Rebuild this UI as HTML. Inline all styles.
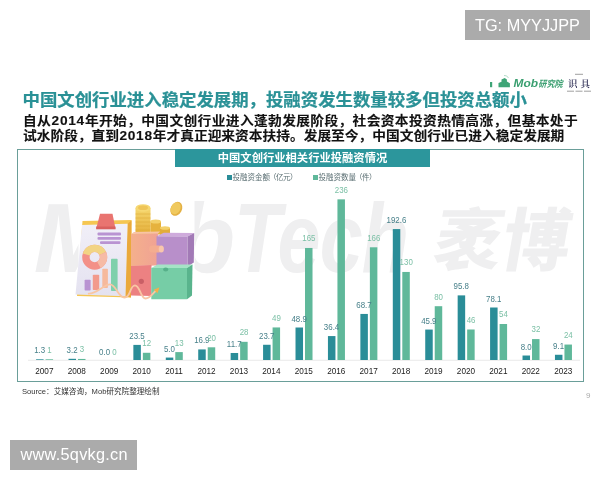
<!DOCTYPE html>
<html lang="zh-CN"><head><meta charset="utf-8"><title>中国文创行业投融资情况</title>
<style>
html,body{margin:0;padding:0;background:#fff;}
body{width:600px;height:480px;position:relative;overflow:hidden;font-family:"Liberation Sans","Noto Sans CJK SC",sans-serif;}
.abs{position:absolute;}
.tag{position:absolute;background:#ababab;color:#fff;font-size:16.3px;white-space:nowrap;}
.title{left:22.5px;top:88.3px;font-size:17.4px;line-height:24px;font-weight:bold;color:#2a9196;white-space:nowrap;letter-spacing:0;transform:scaleY(0.95);-webkit-text-stroke:0.25px #2a9196;}
.body{left:23px;font-size:13.72px;line-height:16px;font-weight:bold;color:#111;white-space:nowrap;transform:scaleY(0.93);-webkit-text-stroke:0.12px #111;}
.dg{letter-spacing:0.7px;margin-left:0.4px}
.leg span{letter-spacing:-0.5px;margin-left:-1px}
.wm{left:36px;top:187.7px;font-size:99px;line-height:100px;font-weight:bold;font-style:italic;color:#efeff0;white-space:nowrap;letter-spacing:-1px;}
.box{left:17.2px;top:148.6px;width:566.8px;height:233px;border:1.5px solid #6a9e99;box-sizing:border-box;}
.hdr{left:175px;top:149px;width:255px;height:17.5px;background:#2c969c;color:#fff;font-size:11.3px;font-weight:bold;line-height:19.5px;overflow:hidden;text-align:center;white-space:nowrap;}
.leg{font-size:7.5px;color:#5b6f73;top:172px;line-height:11px;white-space:nowrap;}
.sq{width:5px;height:5px;top:175.2px;}
.src{left:22px;top:385.5px;font-size:7.6px;line-height:11px;color:#333;white-space:nowrap;}
.pg{left:586px;top:391px;font-size:8px;line-height:10px;color:#aaa;}
</style></head><body>
<div class="abs wm" style="left:33.7px">Mob</div>
<div class="abs wm" style="left:233.6px;transform:scaleX(0.78);transform-origin:0 0">Tech</div>
<div class="abs wm" style="left:434.5px;top:191px;font-size:68px;font-style:normal;letter-spacing:0;font-weight:900;transform:skewX(-10deg)">袤博</div>
<div class="tag" style="left:465px;top:9.5px;width:124.5px;height:30px;line-height:31px;text-indent:10px;">TG: MYYJJPP</div>
<div class="abs title">中国文创行业进入稳定发展期，投融资发生数量较多但投资总额小</div>
<div class="abs body" style="top:112.5px;letter-spacing:0.37px">自从<span class="dg">2014</span>年开始，中国文创行业进入蓬勃发展阶段，社会资本投资热情高涨，但基本处于</div>
<div class="abs body" style="top:127.5px">试水阶段，直到<span class="dg">2018</span>年才真正迎来资本扶持。发展至今，中国文创行业已进入稳定发展期</div>
<svg class="abs" style="left:480px;top:65px" width="120" height="35" viewBox="480 65 120 35">
<rect x="490" y="82" width="2.2" height="5.2" fill="#3fa577"/>
<path d="M498.5 87.3V83l3-1.2V79.6l3.2-1.6 2.2 1.5v2l3 1.8v4z" fill="#3fa577"/>
<path d="M504 75.5q3-.5 4.500 2.500" fill="none" stroke="#9fd3bb" stroke-width="0.8"/>
<g font-family="Liberation Sans, Noto Sans CJK SC, sans-serif" font-weight="bold" font-style="italic" fill="#3a9f70">
<text x="513.5" y="87.3" font-size="10.6" textLength="24.5" lengthAdjust="spacingAndGlyphs">Mob</text>
<text x="538.300" y="87" font-size="9" textLength="24.5" lengthAdjust="spacingAndGlyphs">研究院</text>
</g>
<text x="568" y="87" font-family="Noto Serif CJK SC, serif" font-weight="600" font-size="9.5" fill="#2d2d55" textLength="22" lengthAdjust="spacing">识具</text>
<line x1="575" x2="583" y1="74.300" y2="74.300" stroke="#777" stroke-width="0.7"/>
<line x1="567" x2="591" y1="91.200" y2="91.200" stroke="#888" stroke-width="0.8" stroke-dasharray="7 1.500"/>
</svg>
<div class="abs box"></div>
<div class="abs hdr">中国文创行业相关行业投融资情况</div>
<div class="abs sq" style="left:227px;background:#2a8d98"></div>
<div class="abs leg" style="left:232.5px">投融资金额<span>（亿元）</span></div>
<div class="abs sq" style="left:313px;background:#5fb89a"></div>
<div class="abs leg" style="left:318.5px">投融资数量<span>（件）</span></div>
<svg class="abs" style="left:50px;top:180px" width="160" height="130" viewBox="50 180 160 130">
<defs>
<linearGradient id="gp" x1="0" y1="0" x2="1" y2="0"><stop offset="0" stop-color="#f4b08c"/><stop offset="1" stop-color="#f0a294"/></linearGradient>
<linearGradient id="gc" x1="0" y1="0" x2="0" y2="1"><stop offset="0" stop-color="#f5d66e"/><stop offset="1" stop-color="#e4ae3a"/></linearGradient>
<linearGradient id="gpaper" x1="0" y1="0" x2="0" y2="1"><stop offset="0" stop-color="#f1eff8"/><stop offset="1" stop-color="#e4e2f0"/></linearGradient>
</defs>
<rect x="78.500" y="186" width="116" height="116" fill="#fff"/>
<!-- soft shadow under -->
<!-- coins -->
<rect x="135.500" y="208" width="15" height="27" fill="url(#gc)"/>
<g stroke="#d9a433" stroke-width="0.5"><line x1="135.500" x2="150.500" y1="214" y2="214"/><line x1="135.500" x2="150.500" y1="218" y2="218"/><line x1="135.500" x2="150.500" y1="222" y2="222"/><line x1="135.500" x2="150.500" y1="226" y2="226"/><line x1="135.500" x2="150.500" y1="230" y2="230"/></g>
<ellipse cx="143" cy="208" rx="7.500" ry="3.800" fill="#f6d873"/>
<ellipse cx="143" cy="207.800" rx="5" ry="2.300" fill="#efc558"/>
<rect x="150.500" y="221.500" width="10.500" height="13" fill="#e6b23e"/>
<ellipse cx="155.700" cy="221.500" rx="5.300" ry="2" fill="#f3d06a"/>
<rect x="160" y="228" width="10" height="7" fill="#e2ad3a"/>
<ellipse cx="165" cy="228" rx="5" ry="1.800" fill="#f3d06a"/>
<ellipse cx="176.300" cy="208.800" rx="5.600" ry="7.300" transform="rotate(28 176.300 208.800)" fill="#e4b144"/>
<ellipse cx="175.700" cy="208.300" rx="4.600" ry="6.300" transform="rotate(28 175.700 208.300)" fill="#f0c95e"/>
<!-- clipboard -->
<polygon points="82.500,221 131.500,220 131,297.500 77,296" fill="#f5c652"/>
<polygon points="127.600,223.700 131.500,220.500 131,297.500 125.300,296.300" fill="#eaa93c"/>
<polygon points="82,225 127.600,223.700 125.500,296.300 75.500,294.500" fill="url(#gpaper)"/>
<!-- clip -->
<polygon points="100,213.700 112.500,213.700 115.500,228.800 96.200,228.800" fill="#e97470"/>
<polygon points="96.200,226.500 115.500,226.500 115.500,229.300 96.200,229.300" fill="#d9605f"/>
<!-- lines -->
<rect x="97.500" y="232.600" width="23.500" height="2.800" rx="1" fill="#b993d2"/>
<rect x="97.500" y="236.900" width="23.500" height="2.800" rx="1" fill="#b993d2"/>
<rect x="100" y="241.200" width="20.500" height="2.800" rx="1" fill="#b993d2"/>
<!-- donut -->
<circle cx="94.700" cy="257.200" r="8.800" fill="none" stroke="#f39088" stroke-width="7.400"/>
<path d="M86.300 254.500 A8.800 8.800 0 0 1 102.700 253.500" fill="none" stroke="#f2d484" stroke-width="7.400"/>
<path d="M102.700 253.500 A8.800 8.800 0 0 1 99 264.900" fill="none" stroke="#f6bba6" stroke-width="7.400"/>
<!-- bars -->
<rect x="84.600" y="279.700" width="6" height="10.800" rx="0.800" fill="#b993d2"/>
<rect x="92.800" y="274.800" width="6.400" height="15.200" rx="0.800" fill="#f29a8c"/>
<rect x="102.300" y="268.800" width="5.600" height="19.200" rx="0.800" fill="#f6b99c"/>
<rect x="111" y="258.700" width="6.600" height="32.300" rx="0.800" fill="#7fd0ac"/>
<!-- blocks -->
<polygon points="131,234 158,233 158,265.500 131,266" fill="url(#gp)"/>
<polygon points="131,234 134,232 160,231.500 158,233.500" fill="#f8c3a6"/>
<polygon points="156.500,236.200 163.800,232.800 194.200,233 187.600,236.500" fill="#cfabdc"/>
<polygon points="156.500,236.200 187.600,236.500 187.600,266.500 156.500,266.500" fill="#b88fca"/>
<polygon points="187.600,236.500 194.200,233 193.800,262.500 187.600,266.500" fill="#a27ab6"/>
<rect x="149" y="245.500" width="13" height="7" rx="3.500" fill="#f4ad90"/>
<ellipse cx="161.300" cy="249" rx="2.600" ry="3.500" fill="#f8c6ac"/>
<polygon points="131,266 151.500,265 151.500,296 131,295.500" fill="#ec8182"/>
<circle cx="141.300" cy="281.300" r="2.600" fill="#c95f66"/>
<polygon points="151.300,268 157.500,264.500 192.500,264.500 187,268" fill="#a5e3c6"/>
<polygon points="151.300,268 187,268 187,299.200 151.300,299.200" fill="#76cda6"/>
<polygon points="187,268 192.500,264.500 192,295.500 187,299.200" fill="#59b48d"/>
<ellipse cx="165.700" cy="269.500" rx="2.600" ry="2" fill="#57b08a"/>
<!-- wave -->
<path d="M88.700 293.700 C97 293.700 104 284.300 110 284.300 C116 284.300 118 297.500 124.500 297.500 C131 297.500 129.500 285.500 135 285.300 C140 285.300 140.500 298.500 145.500 298.500 C150.500 298.500 153 293 156.500 290" fill="none" stroke="#f8c6a4" stroke-width="1.800" stroke-linecap="round"/>
<polygon points="153.800,289.700 159.500,287.200 157.500,293.300" fill="#f2b04c"/>
</svg>

<svg class="abs" style="left:0;top:0" width="600" height="480" viewBox="0 0 600 480">
<line x1="28" x2="580" y1="360.3" y2="360.3" stroke="#e4e4e4" stroke-width="0.8"/>
<rect x="36.07" y="359.30" width="7.5" height="0.70" fill="#2a8d98"/>
<rect x="45.57" y="359.30" width="7.5" height="0.70" fill="#5fb89a"/>
<rect x="68.50" y="358.81" width="7.5" height="1.19" fill="#2a8d98"/>
<rect x="78.00" y="358.94" width="7.5" height="1.06" fill="#5fb89a"/>
<rect x="133.36" y="344.90" width="7.5" height="15.10" fill="#2a8d98"/>
<rect x="142.86" y="352.78" width="7.5" height="7.22" fill="#5fb89a"/>
<rect x="165.79" y="357.57" width="7.5" height="2.43" fill="#2a8d98"/>
<rect x="175.29" y="352.10" width="7.5" height="7.90" fill="#5fb89a"/>
<rect x="198.22" y="349.42" width="7.5" height="10.58" fill="#2a8d98"/>
<rect x="207.72" y="347.30" width="7.5" height="12.70" fill="#5fb89a"/>
<rect x="230.65" y="352.99" width="7.5" height="7.01" fill="#2a8d98"/>
<rect x="240.15" y="341.82" width="7.5" height="18.18" fill="#5fb89a"/>
<rect x="263.08" y="344.77" width="7.5" height="15.23" fill="#2a8d98"/>
<rect x="272.58" y="327.44" width="7.5" height="32.56" fill="#5fb89a"/>
<rect x="295.51" y="327.50" width="7.5" height="32.50" fill="#2a8d98"/>
<rect x="305.01" y="247.97" width="7.5" height="112.03" fill="#5fb89a"/>
<rect x="327.94" y="336.07" width="7.5" height="23.93" fill="#2a8d98"/>
<rect x="337.44" y="199.34" width="7.5" height="160.66" fill="#5fb89a"/>
<rect x="360.37" y="313.94" width="7.5" height="46.06" fill="#2a8d98"/>
<rect x="369.87" y="247.29" width="7.5" height="112.71" fill="#5fb89a"/>
<rect x="392.80" y="229.07" width="7.5" height="130.93" fill="#2a8d98"/>
<rect x="402.30" y="271.95" width="7.5" height="88.05" fill="#5fb89a"/>
<rect x="425.23" y="329.56" width="7.5" height="30.44" fill="#2a8d98"/>
<rect x="434.73" y="306.20" width="7.5" height="53.80" fill="#5fb89a"/>
<rect x="457.66" y="295.38" width="7.5" height="64.62" fill="#2a8d98"/>
<rect x="467.16" y="329.49" width="7.5" height="30.51" fill="#5fb89a"/>
<rect x="490.09" y="307.50" width="7.5" height="52.50" fill="#2a8d98"/>
<rect x="499.59" y="324.01" width="7.5" height="35.99" fill="#5fb89a"/>
<rect x="522.52" y="355.52" width="7.5" height="4.48" fill="#2a8d98"/>
<rect x="532.02" y="339.08" width="7.5" height="20.92" fill="#5fb89a"/>
<rect x="554.95" y="354.77" width="7.5" height="5.23" fill="#2a8d98"/>
<rect x="564.45" y="344.56" width="7.5" height="15.44" fill="#5fb89a"/>
<g font-family="Liberation Sans, sans-serif" font-size="8.6" text-anchor="middle">
<text transform="translate(39.67 353.30) scale(0.92 1)" fill="#48808a">1.3</text>
<text transform="translate(49.47 352.70) scale(0.92 1)" fill="#7cc0a6">1</text>
<text transform="translate(72.10 352.81) scale(0.92 1)" fill="#48808a">3.2</text>
<text transform="translate(81.90 352.34) scale(0.92 1)" fill="#7cc0a6">3</text>
<text transform="translate(104.53 355.00) scale(0.92 1)" fill="#48808a">0.0</text>
<text transform="translate(114.33 355.00) scale(0.92 1)" fill="#7cc0a6">0</text>
<text transform="translate(136.96 338.90) scale(0.92 1)" fill="#48808a">23.5</text>
<text transform="translate(146.76 346.18) scale(0.92 1)" fill="#7cc0a6">12</text>
<text transform="translate(169.39 351.57) scale(0.92 1)" fill="#48808a">5.0</text>
<text transform="translate(179.19 345.50) scale(0.92 1)" fill="#7cc0a6">13</text>
<text transform="translate(201.82 343.42) scale(0.92 1)" fill="#48808a">16.9</text>
<text transform="translate(211.62 340.70) scale(0.92 1)" fill="#7cc0a6">20</text>
<text transform="translate(234.25 346.99) scale(0.92 1)" fill="#48808a">11.7</text>
<text transform="translate(244.05 335.22) scale(0.92 1)" fill="#7cc0a6">28</text>
<text transform="translate(266.68 338.77) scale(0.92 1)" fill="#48808a">23.7</text>
<text transform="translate(276.48 320.83) scale(0.92 1)" fill="#7cc0a6">49</text>
<text transform="translate(299.11 321.50) scale(0.92 1)" fill="#48808a">48.9</text>
<text transform="translate(308.91 241.38) scale(0.92 1)" fill="#7cc0a6">165</text>
<text transform="translate(331.54 330.07) scale(0.92 1)" fill="#48808a">36.4</text>
<text transform="translate(341.34 192.74) scale(0.92 1)" fill="#7cc0a6">236</text>
<text transform="translate(363.97 307.94) scale(0.92 1)" fill="#48808a">68.7</text>
<text transform="translate(373.77 240.69) scale(0.92 1)" fill="#7cc0a6">166</text>
<text transform="translate(396.40 223.07) scale(0.92 1)" fill="#48808a">192.6</text>
<text transform="translate(406.20 265.35) scale(0.92 1)" fill="#7cc0a6">130</text>
<text transform="translate(428.83 323.56) scale(0.92 1)" fill="#48808a">45.9</text>
<text transform="translate(438.63 299.60) scale(0.92 1)" fill="#7cc0a6">80</text>
<text transform="translate(461.26 289.38) scale(0.92 1)" fill="#48808a">95.8</text>
<text transform="translate(471.06 322.89) scale(0.92 1)" fill="#7cc0a6">46</text>
<text transform="translate(493.69 301.50) scale(0.92 1)" fill="#48808a">78.1</text>
<text transform="translate(503.49 317.41) scale(0.92 1)" fill="#7cc0a6">54</text>
<text transform="translate(526.12 349.52) scale(0.92 1)" fill="#48808a">8.0</text>
<text transform="translate(535.92 332.48) scale(0.92 1)" fill="#7cc0a6">32</text>
<text transform="translate(558.55 348.77) scale(0.92 1)" fill="#48808a">9.1</text>
<text transform="translate(568.35 337.96) scale(0.92 1)" fill="#7cc0a6">24</text>
</g>
<g font-family="Liberation Sans, sans-serif" font-size="8.2" text-anchor="middle" fill="#222">
<text x="44.37" y="374.0">2007</text>
<text x="76.80" y="374.0">2008</text>
<text x="109.23" y="374.0">2009</text>
<text x="141.66" y="374.0">2010</text>
<text x="174.09" y="374.0">2011</text>
<text x="206.52" y="374.0">2012</text>
<text x="238.95" y="374.0">2013</text>
<text x="271.38" y="374.0">2014</text>
<text x="303.81" y="374.0">2015</text>
<text x="336.24" y="374.0">2016</text>
<text x="368.67" y="374.0">2017</text>
<text x="401.10" y="374.0">2018</text>
<text x="433.53" y="374.0">2019</text>
<text x="465.96" y="374.0">2020</text>
<text x="498.39" y="374.0">2021</text>
<text x="530.82" y="374.0">2022</text>
<text x="563.25" y="374.0">2023</text>
</g>
</svg>
<div class="abs src">Source：艾媒咨询，Mob研究院整理绘制</div>
<div class="abs pg">9</div>
<div class="tag" style="left:10px;top:440px;width:127px;height:30px;line-height:29px;text-indent:10.5px;letter-spacing:0.27px">www.5qvkg.cn</div>
</body></html>
